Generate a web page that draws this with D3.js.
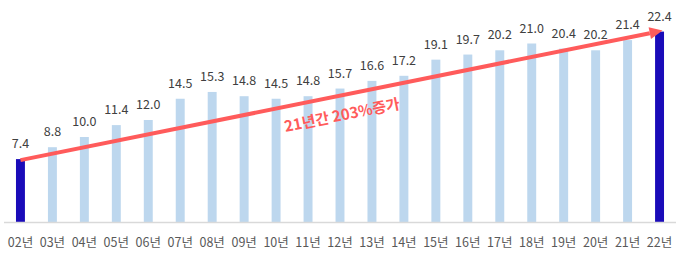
<!DOCTYPE html>
<html>
<head>
<meta charset="utf-8">
<script src="https://cdn.jsdelivr.net/npm/d3@7"></script>
<style>
  body { margin: 0; background: #fff; }
  text { font-family: "Noto Sans CJK KR", "Noto Sans", sans-serif; }
</style>
</head>
<body>
<div id="chart"></div>
<script>
const years = ["02년", "03년", "04년", "05년", "06년", "07년", "08년", "09년", "10년", "11년", "12년",
  "13년", "14년", "15년", "16년", "17년", "18년", "19년", "20년", "21년", "22년"];
const values = [7.4, 8.8, 10.0, 11.4, 12.0, 14.5, 15.3, 14.8, 14.5, 14.8, 15.7,
  16.6, 17.2, 19.1, 19.7, 20.2, 21.0, 20.4, 20.2, 21.4, 22.4];
const annotation = "21년간 203%증가";

const width = 680;
const height = 255;

const svg = d3.select("#chart")
  .append("svg")
  .attr("width", width)
  .attr("height", height);

const x = d3.scaleBand()
  .domain(years)
  .range([0, 680])
  .paddingInner(0.72)
  .paddingOuter(0.5);

const y = d3.scaleLinear()
  .domain([0, 26])
  .range([222, 1]);

const data = years.map((d, i) => ({ year: d, value: values[i] }));
const last = years.length - 1;

// bars
svg.append("g")
  .selectAll("rect")
  .data(data)
  .enter().append("rect")
  .attr("x", d => x(d.year))
  .attr("y", d => y(d.value))
  .attr("width", x.bandwidth())
  .attr("height", d => y(0) - y(d.value))
  .attr("fill", (d, i) => (i === 0 || i === last) ? "#1a0bb9" : "#bdd7ee");

// baseline
svg.append("line")
  .attr("x1", 4)
  .attr("x2", 676)
  .attr("y1", y(0) + 0.5)
  .attr("y2", y(0) + 0.5)
  .attr("stroke", "#d9d9d9")
  .attr("stroke-width", 1.5);

// value labels
svg.append("g")
  .selectAll("text")
  .data(data)
  .enter().append("text")
  .attr("x", d => x(d.year) + x.bandwidth() / 2)
  .attr("y", d => y(d.value) - 11)
  .attr("text-anchor", "middle")
  .attr("font-size", 12.5)
  .attr("fill", "#404040")
  .text(d => d.value.toFixed(1));

// x labels
svg.append("g")
  .selectAll("text")
  .data(years)
  .enter().append("text")
  .attr("x", d => x(d) + x.bandwidth() / 2)
  .attr("y", 247)
  .attr("text-anchor", "middle")
  .attr("font-size", 12.5)
  .attr("fill", "#595959")
  .text(d => d);

// growth arrow
const x0 = x(years[0]) + x.bandwidth() / 2;
const y0 = y(values[0]) + 1;
const x1 = x(years[last]) + x.bandwidth() / 2 + 3;
const y1 = y(values[last]) - 1;
const ang = Math.atan2(y1 - y0, x1 - x0);
const deg = ang * 180 / Math.PI;
const headLen = 13;

svg.append("line")
  .attr("x1", x0)
  .attr("y1", y0)
  .attr("x2", x1 - headLen * Math.cos(ang))
  .attr("y2", y1 - headLen * Math.sin(ang))
  .attr("stroke", "#ff5b5b")
  .attr("stroke-width", 4);

svg.append("path")
  .attr("d", "M0,0 L-13,-6 L-13,6 Z")
  .attr("transform", `translate(${x1},${y1}) rotate(${deg})`)
  .attr("fill", "#ff5b5b");

// annotation text
const mx = 342;
const my = y0 + (mx - x0) * Math.tan(ang);
svg.append("text")
  .attr("transform", `translate(${mx},${my + 20}) rotate(${deg})`)
  .attr("text-anchor", "middle")
  .attr("dy", "0.35em")
  .attr("font-size", 15)
  .attr("font-weight", "bold")
  .attr("fill", "#ff5b5b")
  .text(annotation);
</script>
</body>
</html>
